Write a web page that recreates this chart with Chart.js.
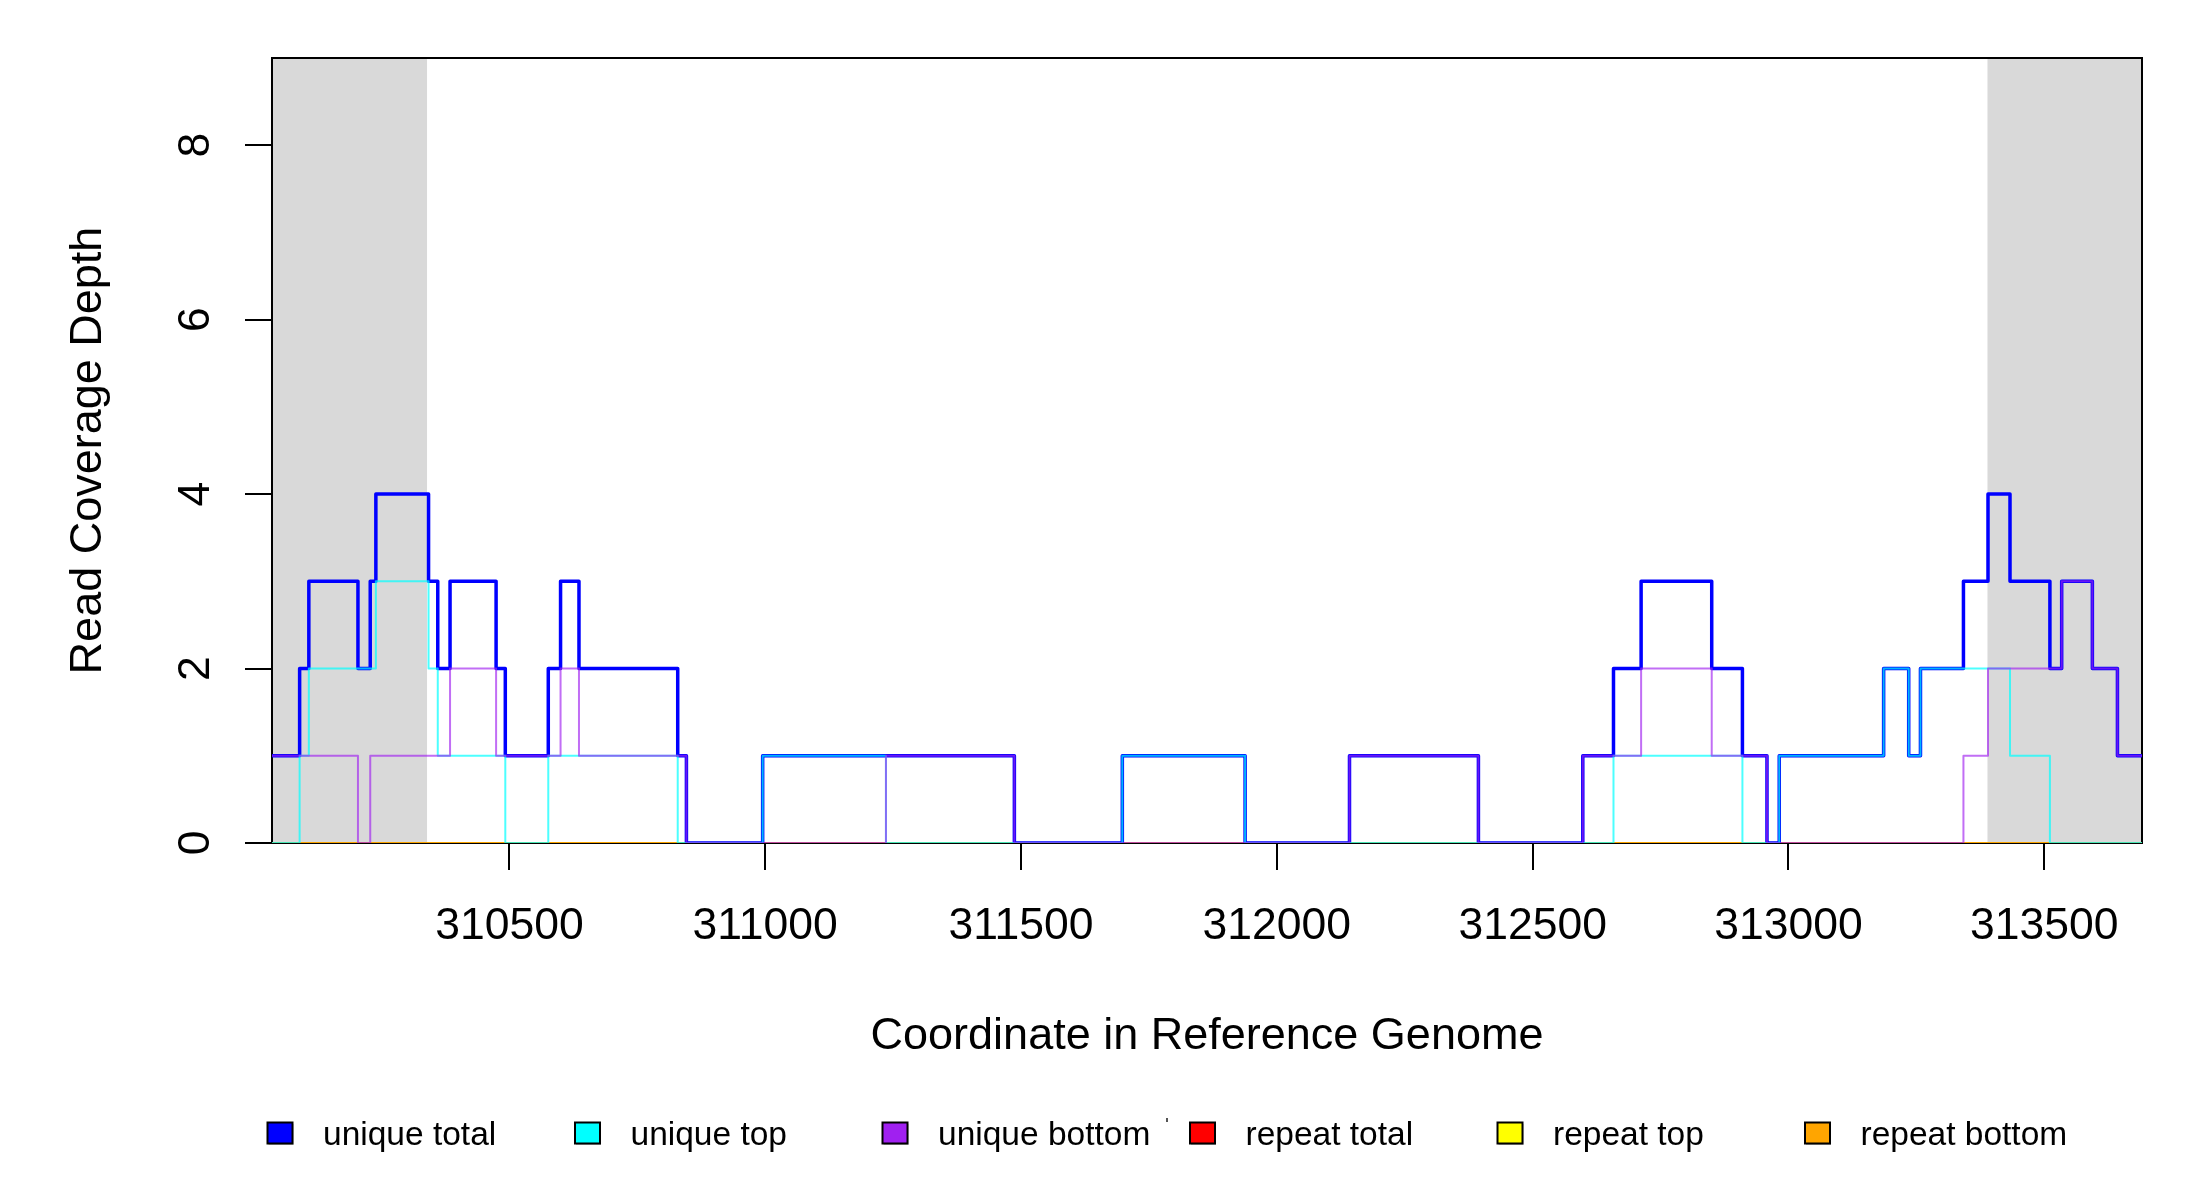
<!DOCTYPE html>
<html>
<head>
<meta charset="utf-8">
<script src="https://cdn.jsdelivr.net/npm/chart.js@4.4.1/dist/chart.umd.min.js"></script>
<style>
  html, body { margin: 0; padding: 0; background: #ffffff; }
  #wrap { width: 2200px; height: 1200px; position: relative; }
  canvas { display: block; }
</style>
</head>
<body>
<div id="wrap"><canvas id="c" width="2200" height="1200"></canvas></div>
<script>
// ---- data ----
const regionStart = 310036;
const regionEnd = 313691;
const flankLeft = [310036, 310339];
const flankRight = [313389, 313691];

// start coordinate of each constant-coverage segment
const breakpoints = [
  310036, 310090, 310108, 310204, 310228, 310239, 310342, 310360, 310384, 310474,
  310492, 310576, 310600, 310636, 310829, 310846, 310995, 311236, 311487, 311698,
  311938, 312142, 312394, 312598, 312658, 312712, 312850, 312910, 312958, 312982,
  313186, 313235, 313258, 313342, 313390, 313433, 313511, 313534, 313594, 313643
];
const uniqueTotal = [
  1, 2, 3, 2, 3, 4, 3, 2, 3, 2,
  1, 2, 3, 2, 1, 0, 1, 1, 0, 1,
  0, 1, 0, 1, 2, 3, 2, 1, 0, 1,
  2, 1, 2, 3, 4, 3, 2, 3, 2, 1
];
const uniqueTop = [
  0, 1, 2, 2, 2, 3, 2, 1, 1, 1,
  0, 1, 1, 1, 0, 0, 1, 0, 0, 1,
  0, 0, 0, 0, 1, 1, 1, 0, 0, 1,
  2, 1, 2, 2, 2, 1, 0, 0, 0, 0
];
const uniqueBottom = [
  1, 1, 1, 0, 1, 1, 1, 1, 2, 1,
  1, 1, 2, 1, 1, 0, 0, 1, 0, 0,
  0, 1, 0, 1, 1, 2, 1, 1, 0, 0,
  0, 0, 0, 1, 2, 2, 2, 3, 2, 1
];
const repeatTotal = [
  0, 0, 0, 0, 0, 0, 0, 0, 0, 0,
  0, 0, 0, 0, 0, 0, 0, 0, 0, 0,
  0, 0, 0, 0, 0, 0, 0, 0, 0, 0,
  0, 0, 0, 0, 0, 0, 0, 0, 0, 0
];
const repeatTop = [
  0, 0, 0, 0, 0, 0, 0, 0, 0, 0,
  0, 0, 0, 0, 0, 0, 0, 0, 0, 0,
  0, 0, 0, 0, 0, 0, 0, 0, 0, 0,
  0, 0, 0, 0, 0, 0, 0, 0, 0, 0
];
const repeatBottom = [
  0, 0, 0, 0, 0, 0, 0, 0, 0, 0,
  0, 0, 0, 0, 0, 0, 0, 0, 0, 0,
  0, 0, 0, 0, 0, 0, 0, 0, 0, 0,
  0, 0, 0, 0, 0, 0, 0, 0, 0, 0
];

const seriesNames = ["unique total", "unique top", "unique bottom", "repeat total", "repeat top", "repeat bottom"];
const xTickValues = [310500, 311000, 311500, 312000, 312500, 313000, 313500];
const xTickLabels = ["310500", "311000", "311500", "312000", "312500", "313000", "313500"];
const yTickValues = [0, 2, 4, 6, 8];
const yTickLabels = ["0", "2", "4", "6", "8"];
const xTitle = "Coordinate in Reference Genome";
const yTitle = "Read Coverage Depth";

// ---- styling ----
const FONT = '"Liberation Sans", Arial, Helvetica, sans-serif';
const legendFill = ["#0000FF", "#00FFFF", "#A020F0", "#FF0000", "#FFFF00", "#FFA500"];

function stepData(values) {
  const pts = breakpoints.map((x, i) => ({ x: x, y: values[i] }));
  pts.push({ x: regionEnd, y: values[values.length - 1] });
  return pts;
}

function ds(label, values, color, width, order) {
  return {
    label: label,
    data: stepData(values),
    borderColor: color,
    backgroundColor: color,
    borderWidth: width,
    stepped: true,
    pointRadius: 0,
    pointHoverRadius: 0,
    fill: false,
    tension: 0,
    borderJoinStyle: 'round',
    borderCapStyle: 'round',
    order: order
  };
}

const shadePlugin = {
  id: 'shade',
  beforeDraw(chart) {
    const ctx = chart.ctx;
    const a = chart.chartArea;
    const xs = chart.scales.x;
    ctx.save();
    ctx.fillStyle = '#ffffff';
    ctx.fillRect(0, 0, chart.width, chart.height);
    ctx.fillStyle = '#D9D9D9';
    [flankLeft, flankRight].forEach(r => {
      const x1 = xs.getPixelForValue(r[0]);
      const x2 = xs.getPixelForValue(r[1]);
      ctx.fillRect(x1, a.top, x2 - x1, a.bottom - a.top);
    });
    ctx.restore();
  },
  beforeDatasetsDraw(chart) {
    const ctx = chart.ctx;
    const a = chart.chartArea;
    ctx.save();
    ctx.strokeStyle = '#000000';
    ctx.lineWidth = 2;
    ctx.strokeRect(a.left, a.top, a.right - a.left, a.bottom - a.top);
    ctx.restore();
  },
  afterDraw(chart) {
    const ctx = chart.ctx;
    const a = chart.chartArea;
    const xs = chart.scales.x;
    const ys = chart.scales.y;
    ctx.save();
    ctx.fillStyle = '#000000';
    ctx.font = '44.5px ' + FONT;
    // x tick labels
    ctx.textAlign = 'center';
    ctx.textBaseline = 'alphabetic';
    xTickValues.forEach((v, i) => {
      ctx.fillText(xTickLabels[i], xs.getPixelForValue(v), 939);
    });
    // y tick labels (rotated)
    yTickValues.forEach((v, i) => {
      ctx.save();
      ctx.translate(209, ys.getPixelForValue(v));
      ctx.rotate(-Math.PI / 2);
      ctx.fillText(yTickLabels[i], 0, 0);
      ctx.restore();
    });
    // axis titles
    ctx.font = '45px ' + FONT;
    ctx.fillText(xTitle, (a.left + a.right) / 2, 1049);
    ctx.save();
    ctx.translate(101, (a.top + a.bottom) / 2);
    ctx.rotate(-Math.PI / 2);
    ctx.fillText(yTitle, 0, 0);
    ctx.restore();
    // legend
    ctx.font = '33.5px ' + FONT;
    ctx.textAlign = 'left';
    seriesNames.forEach((name, i) => {
      const cx = 280 + i * 307.5;
      const bx = cx - 12.5, by = 1122.5, bw = 25, bh = 21;
      ctx.fillStyle = 'rgba(0,0,0,0.25)';
      ctx.fillRect(bx + 1, by + 1.5, bw, bh);
      ctx.fillStyle = legendFill[i];
      ctx.fillRect(bx, by, bw, bh);
      ctx.strokeStyle = '#000000';
      ctx.lineWidth = 2;
      ctx.strokeRect(bx, by, bw, bh);
      ctx.fillStyle = '#000000';
      ctx.fillText(name, cx + 43, 1145);
    });
    ctx.fillStyle = '#555555';
    ctx.fillRect(1166, 1118, 2, 4);
    ctx.restore();
  }
};

const chart = new Chart(document.getElementById('c'), {
  type: 'line',
  data: {
    datasets: [
      ds(seriesNames[0], uniqueTotal, 'rgba(0,0,255,1)', 3.5, 2),
      ds(seriesNames[1], uniqueTop, 'rgba(0,255,255,0.7)', 2, 1),
      ds(seriesNames[2], uniqueBottom, 'rgba(160,32,240,0.65)', 2, 0),
      ds(seriesNames[3], repeatTotal, 'rgba(255,0,0,0.6)', 2, 5),
      ds(seriesNames[4], repeatTop, 'rgba(255,255,0,0.6)', 2, 4),
      ds(seriesNames[5], repeatBottom, 'rgba(255,165,0,0.85)', 2, 3)
    ]
  },
  options: {
    responsive: false,
    animation: false,
    devicePixelRatio: 1,
    layout: { padding: { top: 58, right: 58, left: 0, bottom: 0 } },
    plugins: {
      legend: { display: false },
      tooltip: { enabled: false },
      title: { display: false }
    },
    scales: {
      x: {
        type: 'linear',
        min: regionStart,
        max: regionEnd,
        afterBuildTicks(scale) { scale.ticks = xTickValues.map(v => ({ value: v })); },
        afterFit(scale) { scale.height = 1200 - 843; },
        ticks: { display: false },
        grid: { drawOnChartArea: false, drawTicks: true, tickLength: 27, color: '#000000', lineWidth: 2 },
        border: { display: true, color: '#000000', width: 2 }
      },
      y: {
        type: 'linear',
        min: 0,
        max: 9,
        afterBuildTicks(scale) { scale.ticks = yTickValues.map(v => ({ value: v })); },
        afterFit(scale) { scale.width = 272; },
        ticks: { display: false },
        grid: { drawOnChartArea: false, drawTicks: true, tickLength: 27, color: '#000000', lineWidth: 2 },
        border: { display: true, color: '#000000', width: 2 }
      }
    }
  },
  plugins: [shadePlugin]
});
</script>
</body>
</html>
